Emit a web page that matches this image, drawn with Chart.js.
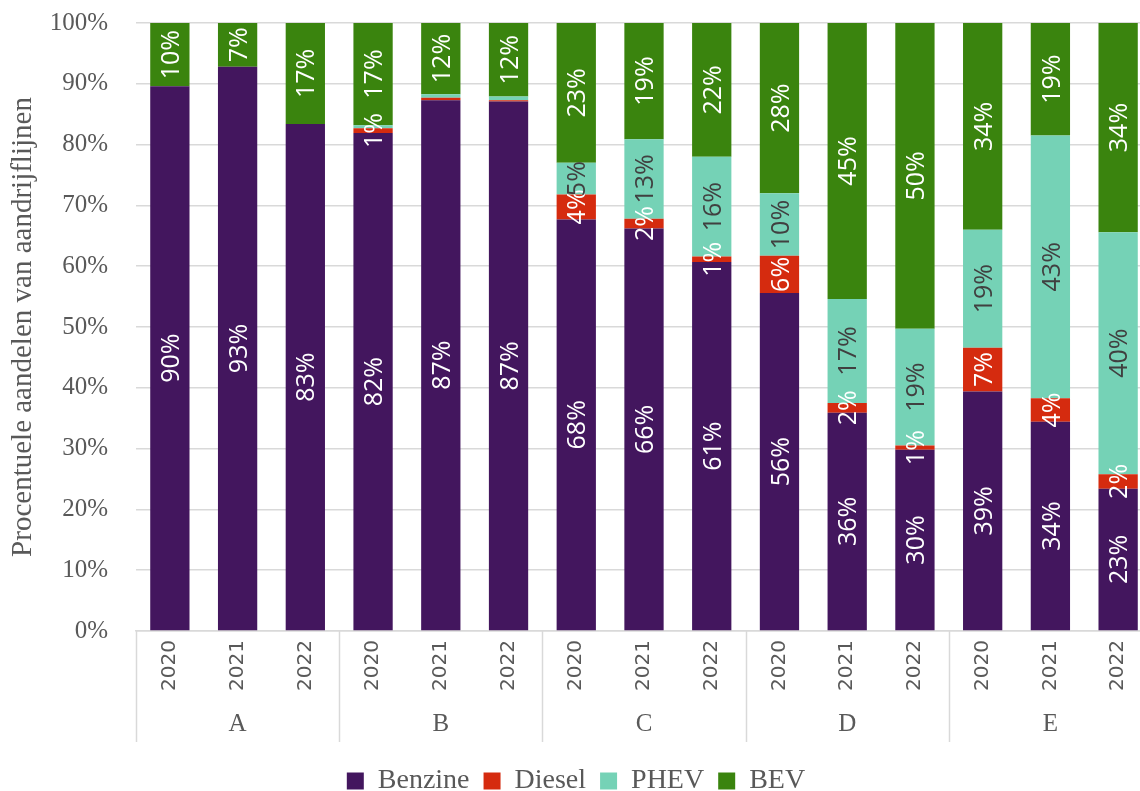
<!DOCTYPE html>
<html>
<head>
<meta charset="utf-8">
<script src="https://cdn.jsdelivr.net/npm/chart.js@4/dist/chart.umd.min.js"></script>
<style>
  html, body { margin: 0; padding: 0; background: #fff; overflow: hidden; }
  canvas { display: block; }
</style>
</head>
<body>
<canvas id="chart" width="1152" height="791"></canvas>
<script>
(function(){
  const groups = ["A", "B", "C", "D", "E"];
  const years = ["2020", "2021", "2022"];

  // shares per bar, in %, order A2020..E2022
  const benzine = [89.6, 92.8, 83.4, 81.9, 87.3, 87.1, 67.7, 66.2, 60.7, 55.6, 35.9, 29.8, 39.4, 34.4, 23.4];
  const diesel  = [0, 0, 0, 0.8, 0.4, 0.2, 4.1, 1.6, 0.9, 6.1, 1.6, 0.7, 7.2, 3.9, 2.4];
  const phev    = [0, 0, 0, 0.5, 0.6, 0.6, 5.2, 13.1, 16.4, 10.3, 17.1, 19.2, 19.4, 43.2, 39.8];
  const bev     = [10.4, 7.2, 16.6, 16.8, 11.7, 12.1, 23.0, 19.1, 22.0, 28.0, 45.4, 50.3, 34.0, 18.5, 34.4];

  const yTicks = [0, 10, 20, 30, 40, 50, 60, 70, 80, 90, 100];

  const labels = groups.flatMap(() => years);
  const gray = "#595959";
  const gridGray = "#d9d9d9";

  // value labels inside the segments, rotated like the original
  const barLabels = {
    id: "barLabels",
    afterDatasetsDraw(chart){
      const ctx = chart.ctx;
      ctx.save();
      ctx.font = "25px 'Open Sans'";
      ctx.textAlign = "center";
      ctx.textBaseline = "middle";
      chart.data.datasets.forEach((ds, i) => {
        const meta = chart.getDatasetMeta(i);
        meta.data.forEach((el, j) => {
          const v = ds.data[j];
          if(!v || v < 0.65) return;
          const p = el.getProps(["x", "y", "base"], true);
          ctx.save();
          ctx.translate(p.x, (p.y + p.base) / 2);
          ctx.rotate(-Math.PI / 2);
          ctx.fillStyle = ds.labelColor;
          ctx.fillText(Math.round(v) + "%", 0, 2);
          ctx.restore();
        });
      });
      ctx.restore();
    }
  };

  // second level of the x axis: group letters + separators
  const groupAxis = {
    id: "groupAxis",
    afterDraw(chart){
      const ctx = chart.ctx;
      const xs = chart.scales.x;
      const top = chart.chartArea.bottom;
      const half = (xs.getPixelForValue(1) - xs.getPixelForValue(0)) / 2;
      ctx.save();
      ctx.strokeStyle = gridGray;
      ctx.lineWidth = 1.5;
      for(let g = 0; g <= groups.length; g++){
        const x = Math.round(xs.getPixelForValue(g * years.length) - half) + 0.5;
        ctx.beginPath();
        ctx.moveTo(x, top);
        ctx.lineTo(x, 742);
        ctx.stroke();
      }
      ctx.fillStyle = gray;
      ctx.font = "25px 'Liberation Serif'";
      ctx.textAlign = "center";
      ctx.textBaseline = "middle";
      groups.forEach((g, k) => {
        ctx.fillText(g, xs.getPixelForValue(k * years.length + 1), 724);
      });
      ctx.restore();
    }
  };

  new Chart(document.getElementById("chart"), {
    type: "bar",
    data: {
      labels: labels,
      datasets: [
        { label: "Benzine", data: benzine, backgroundColor: "#43165e", labelColor: "#ffffff" },
        { label: "Diesel", data: diesel, backgroundColor: "#d52b0f", labelColor: "#ffffff" },
        { label: "PHEV", data: phev, backgroundColor: "#75d2b6", labelColor: "#404040" },
        { label: "BEV", data: bev, backgroundColor: "#3a840e", labelColor: "#ffffff" }
      ]
    },
    options: {
      responsive: false,
      animation: false,
      devicePixelRatio: 1,
      layout: { padding: { top: 0, right: 0, bottom: -14, left: 0 } },
      datasets: { bar: { barPercentage: 0.58, categoryPercentage: 1 } },
      plugins: {
        legend: {
          position: "bottom",
          labels: {
            boxWidth: 17,
            boxHeight: 17,
            padding: 14,
            color: gray,
            font: { family: "'Liberation Serif'", size: 28 }
          }
        },
        tooltip: { enabled: false }
      },
      scales: {
        x: {
          stacked: true,
          grid: { display: false, drawTicks: false },
          border: { display: true, color: gridGray, width: 1.5 },
          ticks: {
            color: gray,
            minRotation: 90,
            maxRotation: 90,
            padding: 9,
            font: { family: "'DejaVu Sans'", size: 20 }
          },
          afterFit(scale){ scale.height = 122; }
        },
        y: {
          stacked: true,
          min: 0,
          max: 100,
          afterBuildTicks(scale){ scale.ticks = yTicks.map(v => ({ value: v })); },
          grid: { color: gridGray, lineWidth: 1.5, drawTicks: false },
          border: { display: false },
          ticks: {
            color: gray,
            padding: 28,
            font: { family: "'Liberation Serif'", size: 25 },
            callback: v => v + "%"
          },
          title: {
            display: true,
            text: "Procentuele aandelen van aandrijflijnen",
            color: gray,
            padding: { top: 6, bottom: 0 },
            font: { family: "'Liberation Serif'", size: 29 }
          },
          afterFit(scale){
            scale.width = 136;
            scale.paddingTop = 23;
          }
        }
      }
    },
    plugins: [barLabels, groupAxis]
  });
})();
</script>
</body>
</html>
